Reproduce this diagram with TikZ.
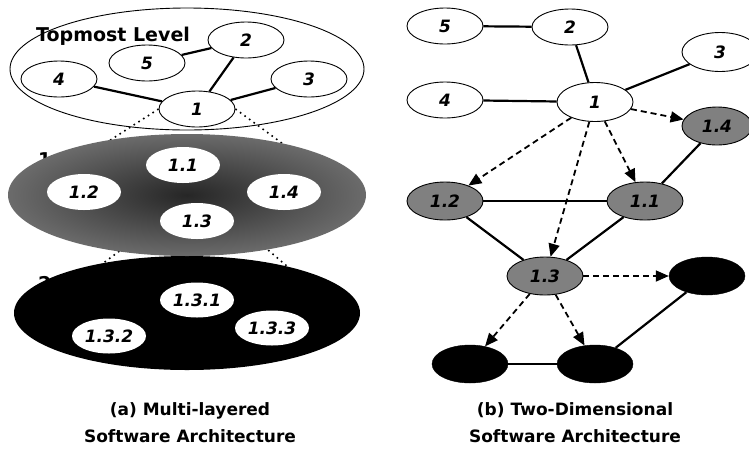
\documentclass[tikz,border=0pt]{standalone}
\usepackage{fontspec}
\setmainfont{DejaVu Sans}
\usetikzlibrary{shapes.geometric,arrows.meta}
\pgfdeclarelayer{bg}
\pgfsetlayers{bg,main}
\tikzset{
  lbl/.style={font=\fontsize{17}{19}\selectfont\bfseries\itshape},
  wnode/.style={ellipse, draw=black, line width=0.9pt, fill=white, minimum width=76pt, minimum height=36pt, inner sep=0pt, lbl},
  inode/.style={ellipse, fill=white, minimum width=74pt, minimum height=36pt, inner sep=0pt, lbl},
  gnode/.style={ellipse, draw=black, line width=0.9pt, fill=black!50, minimum width=76pt, minimum height=38pt, inner sep=0pt, lbl, text=black},
  bnode/.style={ellipse, draw=black, fill=black, minimum width=76pt, minimum height=38pt, inner sep=0pt},
  sedge/.style={line width=2.2pt},
  dedge/.style={line width=1.8pt, dash pattern=on 6pt off 4pt, -{Triangle[length=13pt,width=11pt]}},
  dotl/.style={line width=1.6pt, dash pattern=on 1.6pt off 4pt},
  ttl/.style={font=\fontsize{19}{22}\selectfont\bfseries, inner sep=0pt},
  capt/.style={font=\fontsize{17}{20}\selectfont\bfseries, inner sep=0pt, anchor=base},
}
\begin{document}
\begin{tikzpicture}[x=1pt,y=-1pt]
\useasboundingbox (0,0) rectangle (749,456);
% ---------- (a) layers ----------
\fill[black] (187,313) ellipse [x radius=173pt, y radius=57pt];
\shade[inner color=black!85, outer color=black!58] (187,195) ellipse [x radius=179pt, y radius=61pt];
\draw[line width=0.9pt] (187,69) ellipse [x radius=177pt, y radius=61pt];
\node[ttl, anchor=west] (top) at (36,36) {Topmost Level};
% top level nodes
\node[wnode] (n2) at (246,40) {2};
\node[wnode] (n5) at (147,63) {5};
\node[wnode] (n4) at (59,79) {4};
\node[wnode] (n3) at (309,79) {3};
\node[wnode] (n1) at (197,109) {1};
% first level nodes
\node[inode] (m11) at (183,165) {1.1};
\node[inode] (m12) at (84,192) {1.2};
\node[inode] (m14) at (284,192) {1.4};
\node[inode] (m13) at (197,221) {1.3};
% second level nodes
\node[inode, minimum height=35pt] (k1) at (197,300) {1.3.1};
\node[inode, minimum height=35pt] (k2) at (109,336) {1.3.2};
\node[inode, minimum height=35pt] (k3) at (272,328) {1.3.3};
% hidden level labels and dotted projections (behind the layers)
\coordinate (pa) at (98,148);
\coordinate (pb) at (294,152);
\coordinate (pc) at (86,276);
\coordinate (pd) at (302,279);
\begin{pgfonlayer}{bg}
  \node[ttl, anchor=west] (lv1) at (38,159) {1st Level};
  \node[ttl, anchor=west] (lv2) at (38,283) {2nd Level};
  \draw[dotl] (n1.west) -- (pa);
  \draw[dotl] (n1.east) -- (pb);
  \draw[dotl] (m13.west) -- (pc);
  \draw[dotl] (m13.east) -- (pd);
\end{pgfonlayer}
\draw[sedge] (n5) -- (n2);
\draw[sedge] (n2) -- (n1);
\draw[sedge] (n4) -- (n1);
\draw[sedge] (n1) -- (n3);
% ---------- (b) two-dimensional ----------
\node[wnode] (r5) at (445,26) {5};
\node[wnode] (r2) at (570,27) {2};
\node[wnode, minimum height=39pt] (r3) at (720,52) {3};
\node[wnode] (r4) at (445,100) {4};
\node[wnode, minimum height=39pt] (r1) at (595,102) {1};
\node[gnode, minimum width=70pt] (g14) at (717,126) {1.4};
\node[gnode] (g12) at (445,201) {1.2};
\node[gnode] (g11) at (645,201) {1.1};
\node[gnode] (g13) at (545,276) {1.3};
\node[bnode] (bR) at (707,276) {};
\node[bnode] (bL) at (470,364) {};
\node[bnode] (bM) at (595,364) {};
\draw[sedge] (r5) -- (r2);
\draw[sedge] (r2) -- (r1);
\draw[sedge] (r4) -- (r1);
\draw[sedge] (r1) -- (r3);
\draw[sedge] (g14) -- (g11);
\draw[sedge] (g12) -- (g11);
\draw[sedge] (g12) -- (g13);
\draw[sedge] (g11) -- (g13);
\draw[sedge] (bR) -- (bM);
\draw[sedge] (bL) -- (bM);
\draw[dedge] (r1) -- (g14);
\draw[dedge] (r1) -- (g12);
\draw[dedge] (r1) -- (g13);
\draw[dedge] (r1) -- (g11);
\draw[dedge] (g13) -- (bR);
\draw[dedge] (g13) -- (bL);
\draw[dedge] (g13) -- (bM);
% ---------- captions ----------
\node[capt] (ca1) at (190,415) {(a) Multi-layered};
\node[capt] (ca2) at (190,442) {Software Architecture};
\node[capt] (cb1) at (575,415) {(b) Two-Dimensional};
\node[capt] (cb2) at (575,442) {Software Architecture};
\end{tikzpicture}
\end{document}
